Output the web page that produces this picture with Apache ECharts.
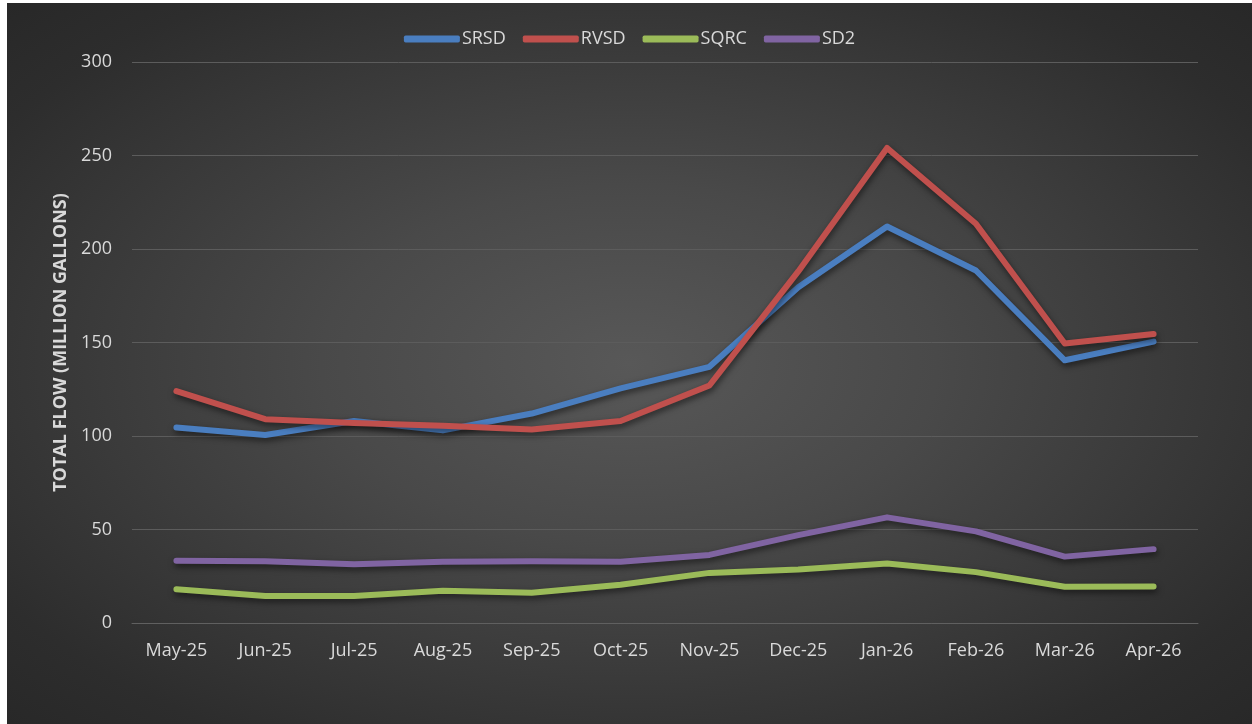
<!DOCTYPE html>
<html>
<head>
<meta charset="utf-8">
<script src="https://cdn.jsdelivr.net/npm/echarts@6/dist/echarts.min.js"></script>
<style>
  html, body { margin: 0; padding: 0; background: #ffffff; width: 1252px; height: 724px; overflow: hidden; }
  #chart {
    position: absolute; left: 7px; top: 3px; width: 1245px; height: 721px;
    background: radial-gradient(ellipse at 50% 50%, #585858 0%, #494949 35%, #2d2d2d 85%, #282828 100%);
  }
</style>
</head>
<body>
<div id="chart"></div>
<script>
const categories = ['May-25','Jun-25','Jul-25','Aug-25','Sep-25','Oct-25','Nov-25','Dec-25','Jan-26','Feb-26','Mar-26','Apr-26'];
const srsd = [104.5, 100.5, 108, 103, 112, 125.5, 137, 179.5, 212, 188.5, 140.5, 150.5];
const rvsd = [124, 109, 107, 105.5, 103.5, 108, 127, 188, 254, 213.5, 149.5, 154.5];
const sqrc = [18, 14.4, 14.4, 17.2, 16.2, 20.5, 26.8, 28.6, 31.8, 27.2, 19.4, 19.5];
const sd2  = [33.3, 33, 31.4, 32.7, 33, 32.8, 36.4, 47, 56.5, 49, 35.5, 39.5];
const yTicks = [0, 50, 100, 150, 200, 250, 300];

const FONT = '"Open Sans", sans-serif';
const TXT = '#d9d9d9';

function mk(name, data, color) {
  return {
    name: name, type: 'line', data: data, symbol: 'none', smooth: false,
    lineStyle: { color: color, width: 6, cap: 'round', join: 'round',
      shadowColor: 'rgba(0,0,0,0.55)', shadowBlur: 6, shadowOffsetX: 1, shadowOffsetY: 3 },
    itemStyle: { color: color }
  };
}

const chart = echarts.init(document.getElementById('chart'), null, { renderer: 'canvas' });
chart.setOption({
  backgroundColor: 'transparent',
  animation: false,
  textStyle: { fontFamily: FONT },
  legend: {
    top: 22, left: 'center',
    icon: 'roundRect', itemWidth: 56, itemHeight: 7, itemGap: 17,
    textStyle: { color: TXT, fontSize: 18, fontFamily: FONT, padding: [0, 0, 0, -3] },
    data: ['SRSD', 'RVSD', 'SQRC', 'SD2']
  },
  grid: { left: 125, right: 54, top: 59, bottom: 101, containLabel: false },
  xAxis: {
    type: 'category', data: categories, boundaryGap: true,
    axisLine: { show: true, lineStyle: { color: '#606060', width: 1 } },
    axisTick: { show: false },
    axisLabel: { color: TXT, fontSize: 18, fontFamily: FONT, margin: 19, interval: 0 }
  },
  yAxis: {
    type: 'value', min: yTicks[0], max: yTicks[yTicks.length - 1], interval: 50,
    name: 'TOTAL FLOW (MILLION GALLONS)', nameLocation: 'middle', nameGap: 61, nameRotate: 90,
    nameTextStyle: { color: TXT, fontSize: 18, fontWeight: 'bold', fontFamily: FONT },
    axisLine: { show: false }, axisTick: { show: false },
    axisLabel: { color: TXT, fontSize: 18, fontFamily: FONT, margin: 20 },
    splitLine: { show: true, lineStyle: { color: '#5c5c5c', width: 1 } }
  },
  series: [
    mk('SRSD', srsd, '#4a7ec0'),
    mk('RVSD', rvsd, '#c0504d'),
    mk('SQRC', sqrc, '#9bbb59'),
    mk('SD2', sd2, '#8064a2')
  ]
});
</script>
</body>
</html>
